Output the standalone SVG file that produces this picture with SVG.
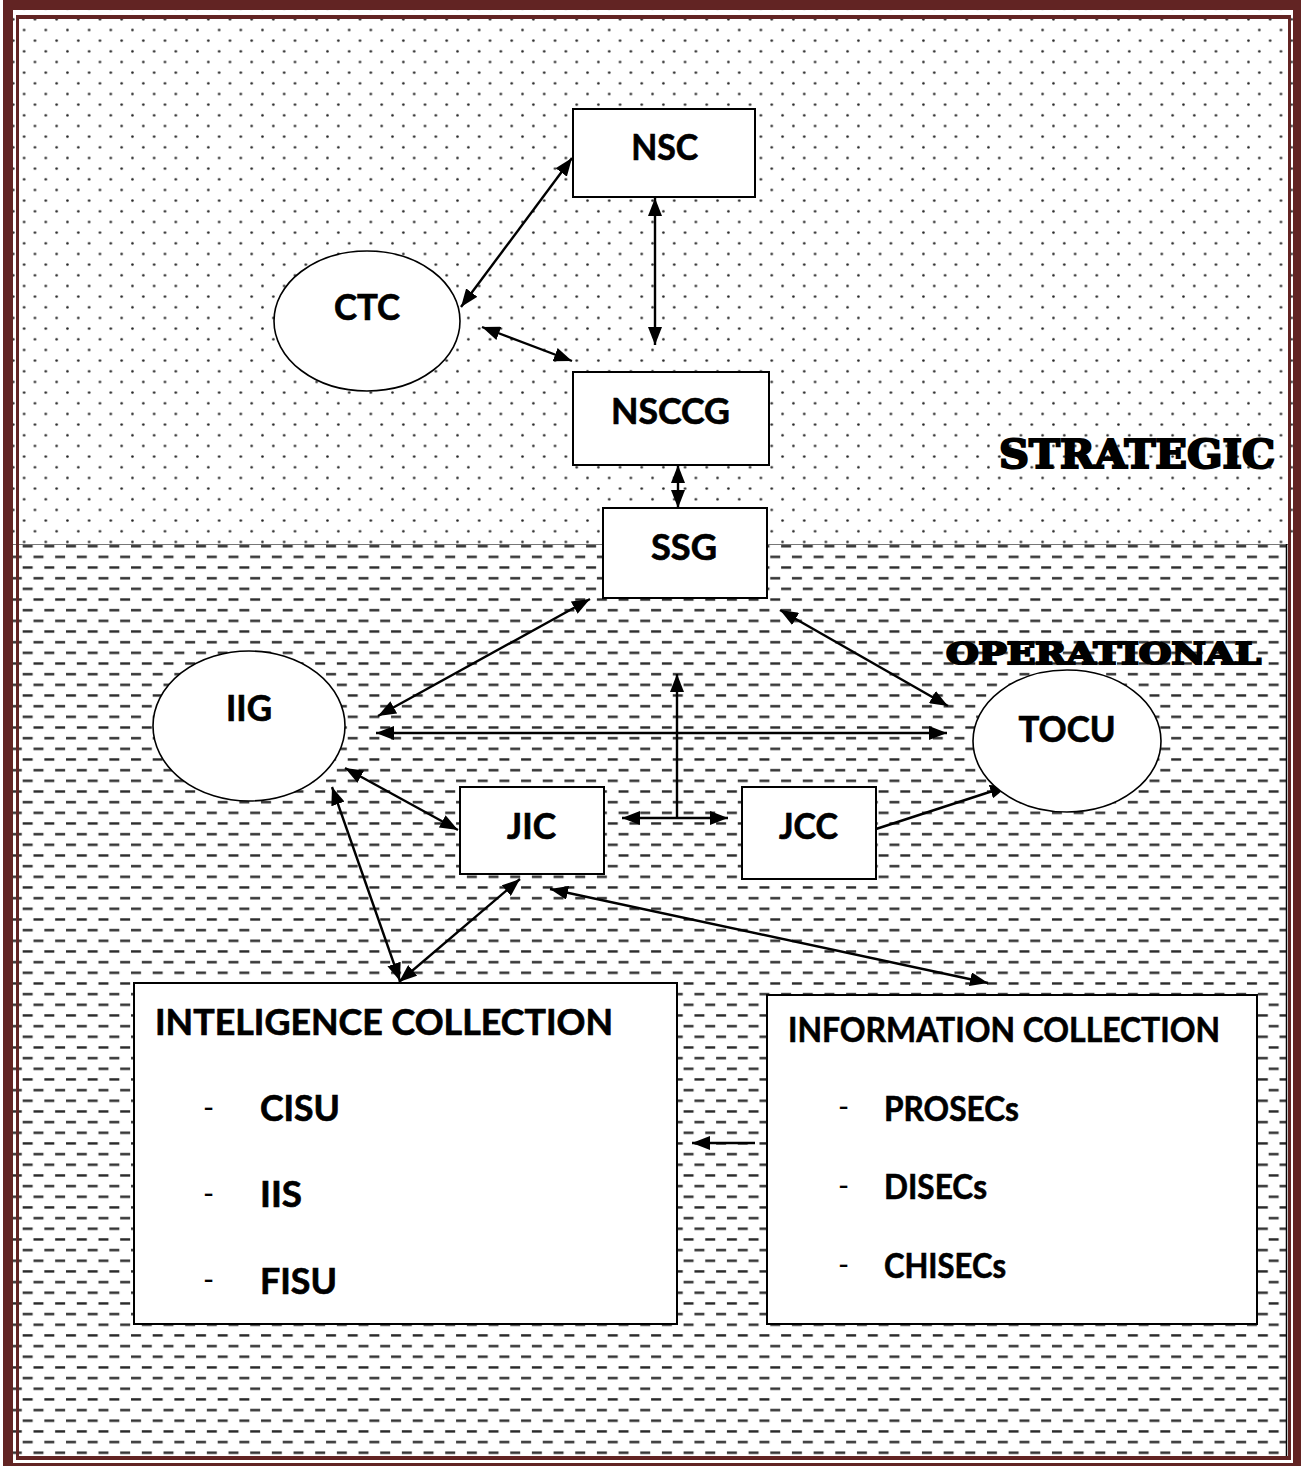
<svg xmlns="http://www.w3.org/2000/svg" width="1301" height="1466" viewBox="0 0 1301 1466">
<style>
.box{fill:#fff;stroke:#000;stroke-width:2}
.ell{fill:#fff;stroke:#000;stroke-width:1.6}
.lbl{font-family:Lato,"Liberation Sans",sans-serif;font-weight:bold;font-size:37px;fill:#000;stroke:#000;stroke-width:0.7}
.lst{font-family:Lato,"Liberation Sans",sans-serif;font-weight:bold;font-size:34px;fill:#000;stroke:#000;stroke-width:0.6}
.dash{font-family:Lato,"Liberation Sans",sans-serif;font-size:30px;fill:#000}
.zone{font-family:"DejaVu Serif",serif;font-weight:900;fill:#000;stroke:#000;stroke-width:2.2}
.con{stroke:#000;stroke-width:2.4;fill:none}
.band{fill:#622423}
</style>
<defs>
<pattern id="dots" patternUnits="userSpaceOnUse" x="7.9" y="14" width="21.67" height="21.33">
<circle cx="5.4" cy="5.3" r="1.3" fill="#222"/>
<circle cx="16.2" cy="16" r="1.3" fill="#222"/>
</pattern>
<pattern id="dashes" patternUnits="userSpaceOnUse" x="1" y="540" width="21.67" height="21.33">
<rect x="0" y="5" width="10" height="2.4" fill="#2a2a2a"/>
<rect x="10.8" y="15.7" width="10" height="2.4" fill="#2a2a2a"/>
</pattern>
<marker id="ah" markerUnits="userSpaceOnUse" markerWidth="18" markerHeight="14" refX="18" refY="7" orient="auto-start-reverse" viewBox="0 0 18 14">
<path d="M0,0 L18,7 L0,14 z" fill="#000"/>
</marker>
</defs>

<g id="background">
<rect x="0" y="0" width="1301" height="1466" fill="#fff"/>
<rect x="13" y="10" width="1280" height="534" fill="url(#dots)"/>
<rect x="13" y="544" width="1274" height="916" fill="url(#dashes)"/>
<line x1="13" y1="544.5" x2="1291" y2="544.5" stroke="#777" stroke-width="1"/>
<line x1="1286.5" y1="544" x2="1286.5" y2="1456" stroke="#000" stroke-width="1.5"/>
</g>

<g id="frame">
<rect class="band" x="3" y="0" width="1298" height="10"/>
<rect class="band" x="3" y="0" width="10" height="1466"/>
<rect class="band" x="1293" y="0" width="8" height="1466"/>
<rect class="band" x="3" y="1463" width="1298" height="3"/>
<rect class="band" x="16" y="15" width="1275" height="4"/>
<rect class="band" x="16" y="15" width="3" height="1445"/>
<rect class="band" x="1288" y="15" width="3" height="1445"/>
<rect class="band" x="16" y="1456" width="1275" height="4"/>
</g>

<g id="zone-labels">
<text class="zone" x="999" y="468" font-size="40" textLength="276" lengthAdjust="spacingAndGlyphs">STRATEGIC</text>
<text class="zone" x="946" y="664" font-size="30" textLength="315" lengthAdjust="spacingAndGlyphs">OPERATIONAL</text>
</g>

<g id="connectors">
<line class="con" x1="461" y1="307" x2="572" y2="158" marker-start="url(#ah)" marker-end="url(#ah)"/>
<line class="con" x1="655" y1="198" x2="655" y2="345" marker-start="url(#ah)" marker-end="url(#ah)"/>
<line class="con" x1="482" y1="327" x2="572" y2="361" marker-start="url(#ah)" marker-end="url(#ah)"/>
<line class="con" x1="678" y1="465" x2="678" y2="508" marker-start="url(#ah)" marker-end="url(#ah)"/>
<line class="con" x1="590" y1="599" x2="378" y2="716" marker-start="url(#ah)" marker-end="url(#ah)"/>
<line class="con" x1="780" y1="610" x2="948" y2="706" marker-start="url(#ah)" marker-end="url(#ah)"/>
<line class="con" x1="376" y1="733" x2="947" y2="733" marker-start="url(#ah)" marker-end="url(#ah)"/>
<line class="con" x1="677" y1="818" x2="677" y2="674" marker-end="url(#ah)"/>
<line class="con" x1="622" y1="818" x2="728" y2="818" marker-start="url(#ah)" marker-end="url(#ah)"/>
<line class="con" x1="345" y1="768" x2="458" y2="830" marker-start="url(#ah)" marker-end="url(#ah)"/>
<line class="con" x1="876" y1="829" x2="1008" y2="786" marker-end="url(#ah)"/>
<line class="con" x1="332" y1="787" x2="400" y2="981" marker-start="url(#ah)" marker-end="url(#ah)"/>
<line class="con" x1="520" y1="879" x2="399" y2="982" marker-start="url(#ah)" marker-end="url(#ah)"/>
<line class="con" x1="550" y1="889" x2="988" y2="983" marker-start="url(#ah)" marker-end="url(#ah)"/>
<line class="con" x1="755" y1="1143" x2="692" y2="1143" marker-end="url(#ah)"/>
</g>

<g id="NSC">
<rect class="box" x="573" y="109" width="182" height="88"/>
<text class="lbl" x="664.7" y="160" text-anchor="middle" textLength="67" lengthAdjust="spacingAndGlyphs">NSC</text>
</g>
<g id="CTC">
<ellipse class="ell" cx="367" cy="321" rx="93" ry="70"/>
<text class="lbl" x="367" y="320" text-anchor="middle" textLength="66" lengthAdjust="spacingAndGlyphs">CTC</text>
</g>
<g id="NSCCG">
<rect class="box" x="573" y="372" width="196" height="93"/>
<text class="lbl" x="670.5" y="424" text-anchor="middle" textLength="119" lengthAdjust="spacingAndGlyphs">NSCCG</text>
</g>
<g id="SSG">
<rect class="box" x="603" y="508" width="164" height="90"/>
<text class="lbl" x="684" y="560" text-anchor="middle" textLength="66" lengthAdjust="spacingAndGlyphs">SSG</text>
</g>
<g id="IIG">
<ellipse class="ell" cx="249" cy="726" rx="96" ry="75"/>
<text class="lbl" x="249" y="721" text-anchor="middle" textLength="46" lengthAdjust="spacingAndGlyphs">IIG</text>
</g>
<g id="TOCU">
<ellipse class="ell" cx="1067" cy="741" rx="94" ry="71"/>
<text class="lbl" x="1067" y="742" text-anchor="middle" textLength="97" lengthAdjust="spacingAndGlyphs">TOCU</text>
</g>
<g id="JIC">
<rect class="box" x="460" y="787" width="144" height="87"/>
<text class="lbl" x="531.5" y="839" text-anchor="middle" textLength="49" lengthAdjust="spacingAndGlyphs">JIC</text>
</g>
<g id="JCC">
<rect class="box" x="742" y="787" width="134" height="92"/>
<text class="lbl" x="808.5" y="839" text-anchor="middle" textLength="59" lengthAdjust="spacingAndGlyphs">JCC</text>
</g>
<g id="INTELIGENCE-COLLECTION">
<rect class="box" x="134" y="983" width="543" height="341"/>
<text class="lbl" x="155" y="1035" textLength="458" lengthAdjust="spacingAndGlyphs">INTELIGENCE COLLECTION</text>
<text class="dash" x="203" y="1118">-</text>
<text class="lbl" x="260" y="1121" textLength="80" lengthAdjust="spacingAndGlyphs">CISU</text>
<text class="dash" x="203" y="1204">-</text>
<text class="lbl" x="260" y="1207" textLength="42" lengthAdjust="spacingAndGlyphs">IIS</text>
<text class="dash" x="203" y="1290">-</text>
<text class="lbl" x="260" y="1294" textLength="77" lengthAdjust="spacingAndGlyphs">FISU</text>
</g>
<g id="INFORMATION-COLLECTION">
<rect class="box" x="767" y="995" width="490" height="329"/>
<text class="lst" x="788" y="1042" font-size="33" textLength="432" lengthAdjust="spacingAndGlyphs">INFORMATION COLLECTION</text>
<text class="dash" x="838" y="1117">-</text>
<text class="lst" x="884" y="1121" font-size="31" textLength="135" lengthAdjust="spacingAndGlyphs">PROSECs</text>
<text class="dash" x="838" y="1196">-</text>
<text class="lst" x="884" y="1199" font-size="31" textLength="103" lengthAdjust="spacingAndGlyphs">DISECs</text>
<text class="dash" x="838" y="1275">-</text>
<text class="lst" x="884" y="1278" font-size="31" textLength="122" lengthAdjust="spacingAndGlyphs">CHISECs</text>
</g>
</svg>
